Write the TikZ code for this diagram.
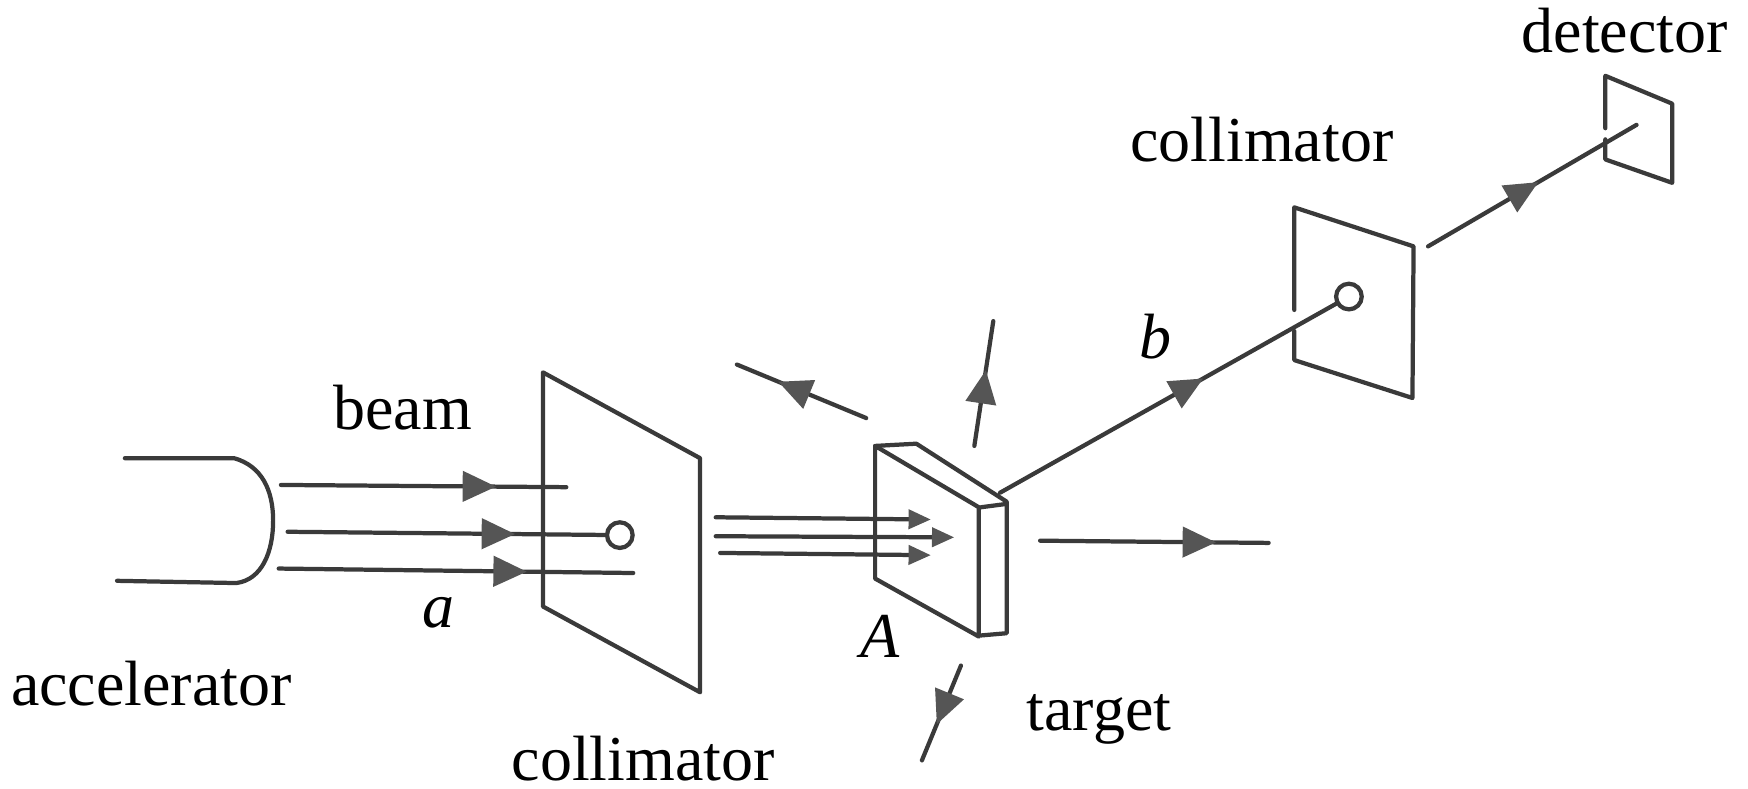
\documentclass[tikz,border=0pt]{standalone}
\usepackage{fontspec}
\setmainfont{Liberation Serif}
\usetikzlibrary{arrows.meta,decorations.markings}
\definecolor{ink}{HTML}{3A3A3A}
\definecolor{headink}{HTML}{555555}
\tikzset{
  x=0.5pt,y=-0.5pt,
  edge/.style={draw=ink,line width=1.9pt,line cap=round,line join=round},
  ray/.style={edge,postaction={decorate},decoration={markings,mark=at position #1 with {\arrow[headink]{Triangle[length=15pt,width=13.5pt]}}}},
  smallray/.style={edge,-{Triangle[length=10pt,width=8.5pt,color=headink]}},
  label/.style={anchor=base west,inner sep=0pt,outer sep=0pt,text=black,font=\fontsize{28.7}{30}\selectfont},
  mathlabel/.style={label,font=\fontsize{28.7}{30}\selectfont\itshape},
  hole/.style={circle,draw=ink,line width=1.9pt,fill=white,inner sep=0pt,minimum size=11.5pt}
}
\begin{document}
\begin{tikzpicture}
\useasboundingbox (0,0) rectangle (1568,707.7);
% labels
\node[label] (lacc) at (10,633) {accelerator};
\node[label] (lbeam) at (299,385) {beam};
\node[mathlabel] (la) at (379,563) {a};
\node[label] (lcol1) at (459,700) {collimator};
\node[mathlabel] (lA) at (772,590) {A};
\node[label] (ltarget) at (921,655) {target};
\node[mathlabel] (lb) at (1022,322) {b};
\node[label] (lcol2) at (1014,145) {collimator};
\node[label] (ldet) at (1365,47) {detector};
% accelerator
\draw[edge] (112,411) -- (210,411) .. controls (235,418) and (245,440) .. (245,467)
  .. controls (245,495) and (235,520) .. (212,523) -- (105,521);
% first collimator
\draw[edge] (487,334) -- (628,411) -- (628,621) -- (487,544) -- cycle;
\node[hole] (h1) at (556,480) {};
\coordinate (b1s) at (252,435); \coordinate (b1e) at (508,437);
\coordinate (b2s) at (258,477);
\coordinate (b3s) at (250,510); \coordinate (b3e) at (568,514);
\draw[ray=.754] (b1s) -- (b1e);
\draw[ray=.717] (b2s) -- (h1);
\draw[ray=.70] (b3s) -- (b3e);
% beam on target
\coordinate (c1s) at (642,464); \coordinate (c1e) at (835,466);
\coordinate (c2s) at (642,481); \coordinate (c2e) at (856,482);
\coordinate (c3s) at (646,496); \coordinate (c3e) at (835,498);
\draw[smallray] (c1s) -- (c1e);
\draw[smallray] (c2s) -- (c2e);
\draw[smallray] (c3s) -- (c3e);
% target
\draw[edge] (785,400) -- (878,455) -- (878,571) -- (785,519) -- cycle;
\draw[edge] (785,400) -- (822,398) -- (903,450) -- (903,568) -- (880,570);
\draw[edge] (880,455) -- (903,452);
% scattered rays
\coordinate (tb) at (897,442);
\node[hole] (h2) at (1210,266) {};
\draw[ray=.605] (tb) -- (h2);
\coordinate (us) at (874,400); \coordinate (ue) at (891,288);
\draw[ray=.607] (us) -- (ue);
\coordinate (ls) at (777,375); \coordinate (le) at (661,327);
\draw[ray=.68] (ls) -- (le);
\coordinate (ds) at (862,597); \coordinate (de) at (827,682);
\draw[ray=.62] (ds) -- (de);
\coordinate (rs) at (933,485); \coordinate (re) at (1138,487);
\draw[ray=.77] (rs) -- (re);
% second collimator
\draw[edge] (1161,278) -- (1161,186) -- (1268,221) -- (1267,357) -- (1161,323) -- (1161,297);
% detector
\draw[edge] (1440,115) -- (1440,68) -- (1500,93) -- (1500,164) -- (1440,143) -- (1440,125);
\coordinate (ds1) at (1281,221); \coordinate (ds2) at (1468,112);
\draw[ray=.53] (ds1) -- (ds2);
\end{tikzpicture}
\end{document}
